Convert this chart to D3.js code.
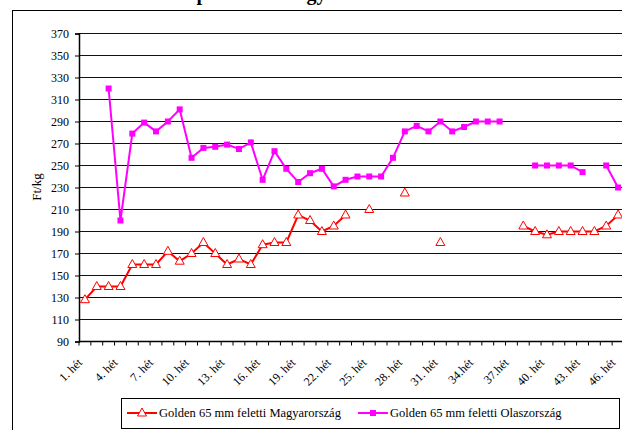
<!DOCTYPE html>
<html>
<head>
<meta charset="utf-8">
<script src="https://cdn.jsdelivr.net/npm/d3@7"></script>
<style>
  body { margin: 0; background: #fff; }
  svg text { font-family: 'Liberation Serif', 'Times New Roman', serif; }
</style>
</head>
<body>
<script>
// weeks (categories)
var weeks = [];
for (var i = 1; i <= 46; i++) {
    weeks.push((i === 34 || i === 37) ? i + '.hét' : i + '. hét');
}

// Ft/kg values, null = no data
var hungary = [128,140,140,140,160,160,160,172,163,170,
               180,170,160,165,160,178,180,180,205,200,
               190,195,205,null,210,null,null,225,null,null,
               180,null,null,null,null,null,null,195,190,187,
               190,190,190,190,195,205];

var italy = [null,null,320,200,279,289,281,290,301,257,
             266,267,269,265,271,237,263,247,235,243,
             247,231,237,240,240,240,257,281,286,281,
             290,281,285,290,290,290,null,null,250,250,
             250,250,244,null,250,230];

var yTicks = [90,110,130,150,170,190,210,230,250,270,290,310,330,350,370];

var seriesNames = ['Golden 65 mm feletti Magyarország', 'Golden 65 mm feletti Olaszország'];

var svgWidth = 622;
var svgHeight = 430;

var svg = d3.select('body')
    .append('svg')
    .attr('width', svgWidth)
    .attr('height', svgHeight);

// outer chart frame (runs off the picture)
svg.append('rect')
    .attr('x', 12.5)
    .attr('y', 10.5)
    .attr('width', 640)
    .attr('height', 440)
    .attr('fill', 'none')
    .attr('stroke', '#000')
    .attr('stroke-width', 1);

// title, mostly cut off at the top like in the source
svg.append('text')
    .attr('x', 272)
    .attr('y', 0)
    .attr('text-anchor', 'middle')
    .style('font-size', '20px')
    .style('font-weight', 'bold')
    .text('Az import alma nagybani ára');

var plot = { left: 79, top: 33.5, right: 624, bottom: 341.5 };

var x = d3.scaleBand()
    .domain(weeks)
    .range([plot.left, plot.right]);

var y = d3.scaleLinear()
    .domain([90, 370])
    .range([plot.bottom, plot.top]);

// horizontal grid lines
svg.append('g')
    .selectAll('line')
    .data(yTicks.slice(1))
    .enter()
    .append('line')
    .attr('x1', plot.left)
    .attr('x2', plot.right)
    .attr('y1', function(d) { return y(d); })
    .attr('y2', function(d) { return y(d); })
    .attr('stroke', '#111')
    .attr('stroke-width', 1.2);

// y axis
var leftAxis = d3.axisLeft(y)
    .tickValues(yTicks)
    .tickSize(4)
    .tickPadding(6);

var gy = svg.append('g')
    .attr('transform', 'translate(' + plot.left + ',0)')
    .call(leftAxis);
gy.select('.domain').attr('stroke', '#000').attr('stroke-width', 1.5);
gy.selectAll('text')
    .style('font-size', '12px')
    .attr('fill', '#000');

// x axis line + tick marks between categories
svg.append('line')
    .attr('x1', plot.left)
    .attr('x2', plot.right)
    .attr('y1', plot.bottom)
    .attr('y2', plot.bottom)
    .attr('stroke', '#000')
    .attr('stroke-width', 1.5);

svg.append('g')
    .selectAll('line')
    .data(weeks)
    .enter()
    .append('line')
    .attr('x1', function(d) { return x(d); })
    .attr('x2', function(d) { return x(d); })
    .attr('y1', plot.bottom)
    .attr('y2', plot.bottom + 4)
    .attr('stroke', '#000');

// every 3rd week gets a label
svg.append('g')
    .selectAll('text')
    .data(weeks.filter(function(d, i) { return i % 3 === 0; }))
    .enter()
    .append('text')
    .attr('transform', function(d) {
        return 'translate(' + (x(d) + x.bandwidth() / 2 - 5) + ',' + (plot.bottom + 19) + ') rotate(-45)';
    })
    .attr('text-anchor', 'end')
    .attr('dy', '0.35em')
    .style('font-size', '12px')
    .text(function(d) { return d; });

// y axis title
svg.append('text')
    .attr('transform', 'translate(41,' + 187 + ') rotate(-90)')
    .attr('text-anchor', 'middle')
    .style('font-size', '13px')
    .text('Ft/kg');

function cx(d, i) { return x(weeks[i]) + x.bandwidth() / 2; }

var line = d3.line()
    .defined(function(d) { return d !== null; })
    .x(cx)
    .y(function(d) { return y(d); });

// Italy series
svg.append('path')
    .datum(italy)
    .attr('d', line)
    .attr('fill', 'none')
    .attr('stroke', '#ff00ff')
    .attr('stroke-width', 2);

svg.append('g')
    .selectAll('rect')
    .data(italy.map(function(d, i) { return { v: d, i: i }; }).filter(function(d) { return d.v !== null; }))
    .enter()
    .append('rect')
    .attr('x', function(d) { return cx(d.v, d.i) - 3; })
    .attr('y', function(d) { return y(d.v) - 3; })
    .attr('width', 6)
    .attr('height', 6)
    .attr('fill', '#ff00ff');

// Hungary series
svg.append('path')
    .datum(hungary)
    .attr('d', line)
    .attr('fill', 'none')
    .attr('stroke', '#ff0000')
    .attr('stroke-width', 2);

var tri = 'M0,-5L4.5,3L-4.5,3Z';

svg.append('g')
    .selectAll('path')
    .data(hungary.map(function(d, i) { return { v: d, i: i }; }).filter(function(d) { return d.v !== null; }))
    .enter()
    .append('path')
    .attr('d', tri)
    .attr('transform', function(d) { return 'translate(' + cx(d.v, d.i) + ',' + y(d.v) + ')'; })
    .attr('fill', '#fff')
    .attr('stroke', '#ff0000')
    .attr('stroke-width', 1);

// legend
var legend = svg.append('g');
legend.append('rect')
    .attr('x', 121.5)
    .attr('y', 398.5)
    .attr('width', 498)
    .attr('height', 30)
    .attr('fill', '#fff')
    .attr('stroke', '#000');

var legendItems = [
    { name: seriesNames[0], color: '#ff0000', x: 127, marker: 'tri' },
    { name: seriesNames[1], color: '#ff00ff', x: 358, marker: 'sq' }
];

legendItems.forEach(function(item) {
    var g = legend.append('g').attr('transform', 'translate(' + item.x + ',413)');
    g.append('line')
        .attr('x1', 0).attr('x2', 30)
        .attr('y1', 0).attr('y2', 0)
        .attr('stroke', item.color)
        .attr('stroke-width', 2);
    if (item.marker === 'tri') {
        g.append('path')
            .attr('d', tri)
            .attr('transform', 'translate(15,0)')
            .attr('fill', '#fff')
            .attr('stroke', item.color);
    } else {
        g.append('rect')
            .attr('x', 12).attr('y', -3)
            .attr('width', 6).attr('height', 6)
            .attr('fill', item.color);
    }
    g.append('text')
        .attr('x', 32)
        .attr('dy', '0.35em')
        .style('font-size', '12.5px')
        .text(item.name);
});
</script>
</body>
</html>
